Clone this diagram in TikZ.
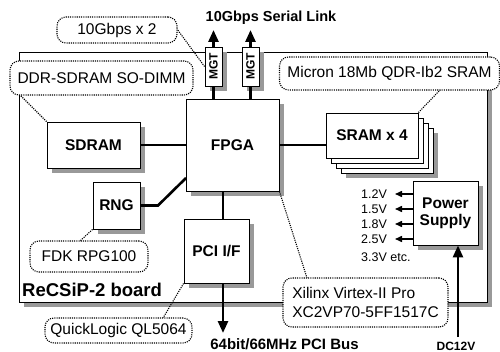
\documentclass[tikz,border=0pt]{standalone}
\usepackage{fontspec}
\setmainfont{Liberation Sans}
\usepackage{graphicx}
\usetikzlibrary{shadows,arrows.meta,calc}
\begin{document}
\begin{tikzpicture}[x=1pt,y=-1pt,
 shadowed/.style={drop shadow={shadow xshift=5pt,shadow yshift=-5pt,opacity=1,fill=black!40}},
 plainbox/.style={draw,line width=0.9pt,fill=white,inner sep=0pt,align=center,font=\bfseries\fontsize{15.5}{17}\selectfont},
 box/.style={plainbox,shadowed},
 callout/.style={draw,line width=1.1pt,dash pattern=on 1.1pt off 1.1pt,rounded corners=9pt,fill=white,inner sep=0pt,font=\fontsize{15.5}{18.5}\selectfont},
 pointer/.style={line width=1.1pt,dash pattern=on 1.1pt off 1.1pt},
 link/.style={line width=2.6pt},
 bigarrow/.style={line width=2.6pt,-{Triangle[width=10pt,length=12pt]}},
 smallarrow/.style={line width=1.5pt,-{Triangle[width=6pt,length=7pt]}},
 vlabel/.style={anchor=west,inner sep=0pt,font=\fontsize{12.5}{14}\selectfont},
]
\useasboundingbox (0,0) rectangle (500,352);

% board
\node[box,minimum width=468pt,minimum height=250pt] (board) at (253,177) {};

% blocks
\node[box,minimum width=93pt,minimum height=46pt] (sdram) at (93.5,145) {SDRAM};
\node[box,minimum width=47pt,minimum height=47pt] (rng) at (116.5,205.5) {RNG};
\node[box,minimum width=93pt,minimum height=92pt] (fpga) at (232.5,145) {FPGA};
\node[box,minimum width=65pt,minimum height=64pt] (pci) at (216.5,251) {PCI I/F};
\node[box,minimum width=65pt,minimum height=64pt] (power) at (445.5,213) {Power\\Supply};
\node[box,minimum width=17pt,minimum height=39pt,font=\bfseries\fontsize{12}{14}\selectfont] (mgt1) at (213.5,66.5) {\rotatebox{90}{MGT}};
\node[box,minimum width=17pt,minimum height=39pt,font=\bfseries\fontsize{12}{14}\selectfont] (mgt2) at (250.5,66.5) {\rotatebox{90}{MGT}};

% SRAM stack
\node[box,minimum width=92pt,minimum height=45pt] (s4) at (387,150.5) {};
\node[plainbox,minimum width=92pt,minimum height=45pt] (s3) at (382,145.5) {};
\node[plainbox,minimum width=92pt,minimum height=45pt] (s2) at (377,140.5) {};
\node[plainbox,minimum width=92pt,minimum height=45pt] (sram) at (372,135.5) {SRAM x 4};

% connectors
\coordinate (px) at (223,0);
\coordinate (rngbend) at (158,205.5);
\coordinate (rngin) at (186,178);
\draw[link] (sdram.east) -- (sdram.east -| fpga.west);
\draw[link] (fpga.east) -- (fpga.east -| sram.west);
\draw[link] (rng.east) -- (rngbend) -- (rngin);
\draw[link] (fpga.south -| px) -- (pci.north -| px);
\draw[link] (mgt1.south) -- (mgt1.south |- fpga.north);
\draw[link] (mgt2.south) -- (mgt2.south |- fpga.north);

% external arrows
\coordinate (t1) at (213.5,30);
\coordinate (t2) at (250.5,30);
\draw[bigarrow] (mgt1.north) -- (t1);
\draw[bigarrow] (mgt2.north) -- (t2);
\coordinate (pcibus) at (223,333);
\draw[bigarrow] (pci.south -| px) -- (pcibus);
\coordinate (dcin) at (458,337);
\draw[bigarrow] (dcin) -- (dcin |- power.south);

\coordinate (v1) at (395,194);
\coordinate (v2) at (395,209);
\coordinate (v3) at (395,224);
\coordinate (v4) at (395,239);
\draw[smallarrow] (power.west |- v1) -- (v1);
\draw[smallarrow] (power.west |- v2) -- (v2);
\draw[smallarrow] (power.west |- v3) -- (v3);
\draw[smallarrow] (power.west |- v4) -- (v4);
\node[vlabel] (l1) at (361,194) {1.2V};
\node[vlabel] (l2) at (361,209) {1.5V};
\node[vlabel] (l3) at (361,224) {1.8V};
\node[vlabel] (l4) at (361,239) {2.5V};
\node[vlabel] (l5) at (361,257) {3.3V etc.};

% texts
\node[font=\bfseries\fontsize{14.5}{16}\selectfont] (serial) at (271,18) {10Gbps Serial Link};
\node[font=\bfseries\fontsize{15}{16}\selectfont] (pcibustext) at (284.5,344) {64bit/66MHz PCI Bus};
\node[font=\bfseries\fontsize{12}{13}\selectfont] (dc) at (456,346.5) {DC12V};
\node[anchor=west,inner sep=0pt,font=\bfseries\fontsize{18.5}{20}\selectfont] (blabel) at (22,290) {ReCSiP-2 board};

% callout pointers
\coordinate (p2) at (20,95);
\coordinate (p3) at (440,90);
\coordinate (p4) at (80,241);
\coordinate (p5) at (163,318);
\coordinate (p6) at (307,278);
\draw[pointer] (mgt1.west) -- (177,29);
\draw[pointer] (sdram.north west) -- (p2);
\draw[pointer] (sram.north east) -- (p3);
\draw[pointer] (rng.south west) -- (p4);
\draw[pointer] (pci.south west) -- (p5);
\draw[pointer] (fpga.south east) -- (p6);

% callouts
\node[callout,minimum width=120pt,minimum height=26pt] (c1) at (117,30) {10Gbps x 2};
\node[callout,minimum width=183pt,minimum height=34pt] (c2) at (101.5,78) {DDR-SDRAM SO-DIMM};
\node[callout,minimum width=220pt,minimum height=33pt] (c3) at (389.5,73.5) {Micron 18Mb QDR-Ib2 SRAM};
\node[callout,minimum width=118pt,minimum height=31pt] (c4) at (89,256.5) {FDK RPG100};
\node[callout,minimum width=147pt,minimum height=25pt] (c5) at (118.5,330.5) {QuickLogic QL5064};
\node[callout,minimum width=165pt,minimum height=49pt,align=left] (c6) at (365.5,302.5) {Xilinx Virtex-II Pro\\XC2VP70-5FF1517C};
\end{tikzpicture}
\end{document}
